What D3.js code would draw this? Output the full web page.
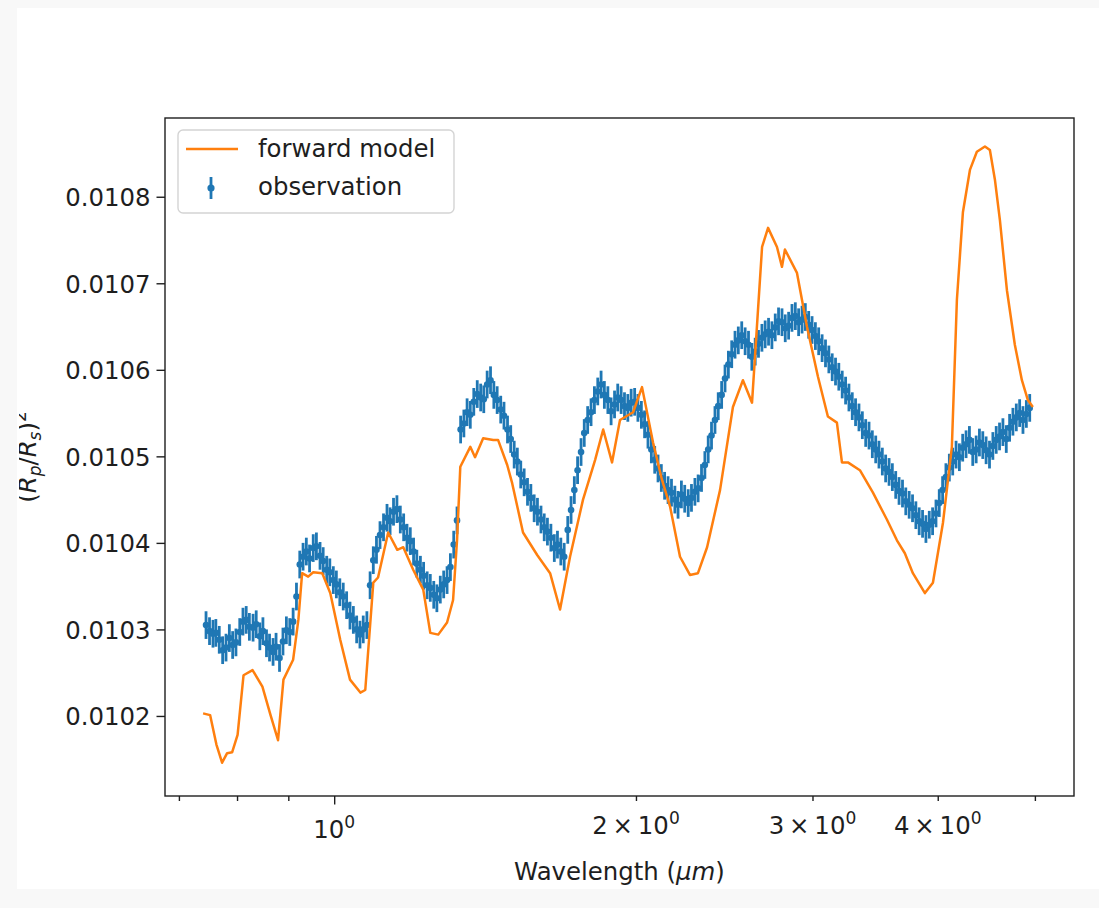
<!DOCTYPE html>
<html>
<head>
<meta charset="utf-8">
<script src="https://cdn.jsdelivr.net/npm/d3@7"></script>
<style>
  body { margin: 0; background: #f8f8f8; }
  svg { display: block; font-family: "DejaVu Sans", sans-serif; }
</style>
</head>
<body>
<svg id="chart" width="1099" height="908"></svg>
<script>
var obsWavelength = [
  0.745, 0.751, 0.757, 0.762, 0.768, 0.774, 0.780, 0.786, 0.792, 0.798,
  0.805, 0.811, 0.817, 0.823, 0.830, 0.836, 0.843, 0.849, 0.856, 0.862,
  0.869, 0.875, 0.882, 0.889, 0.896, 0.903, 0.910, 0.917, 0.924, 0.931,
  0.938, 0.945, 0.953, 0.960, 0.968, 0.975, 0.983, 0.990, 0.998, 1.005,
  1.013, 1.021, 1.029, 1.037, 1.045, 1.053, 1.061, 1.069, 1.078, 1.086,
  1.094, 1.102, 1.111, 1.120, 1.129, 1.137, 1.146, 1.155, 1.164, 1.173,
  1.182, 1.191, 1.200, 1.209, 1.219, 1.228, 1.238, 1.247, 1.257, 1.266,
  1.276, 1.286, 1.296, 1.306, 1.316, 1.326, 1.337, 1.347, 1.357, 1.367,
  1.378, 1.389, 1.400, 1.410, 1.421, 1.432, 1.443, 1.454, 1.466, 1.477,
  1.489, 1.500, 1.512, 1.523, 1.535, 1.547, 1.559, 1.571, 1.583, 1.595,
  1.608, 1.620, 1.632, 1.645, 1.658, 1.670, 1.683, 1.696, 1.710, 1.723,
  1.736, 1.749, 1.763, 1.776, 1.790, 1.804, 1.818, 1.832, 1.846, 1.860,
  1.875, 1.889, 1.904, 1.918, 1.933, 1.948, 1.963, 1.978, 1.994, 2.009,
  2.025, 2.040, 2.056, 2.072, 2.088, 2.104, 2.120, 2.136, 2.153, 2.170,
  2.187, 2.203, 2.220, 2.237, 2.255, 2.272, 2.290, 2.307, 2.325, 2.343,
  2.361, 2.379, 2.398, 2.416, 2.435, 2.454, 2.473, 2.492, 2.511, 2.530,
  2.550, 2.570, 2.590, 2.610, 2.630, 2.650, 2.671, 2.691, 2.712, 2.733,
  2.754, 2.775, 2.797, 2.818, 2.840, 2.862, 2.884, 2.906, 2.929, 2.951,
  2.974, 2.997, 3.020, 3.043, 3.067, 3.091, 3.115, 3.139, 3.163, 3.187,
  3.212, 3.237, 3.262, 3.287, 3.312, 3.338, 3.364, 3.390, 3.416, 3.442,
  3.469, 3.495, 3.522, 3.549, 3.577, 3.604, 3.632, 3.660, 3.689, 3.717,
  3.746, 3.775, 3.804, 3.833, 3.863, 3.893, 3.923, 3.953, 3.984, 4.014,
  4.045, 4.076, 4.108, 4.140, 4.172, 4.204, 4.236, 4.269, 4.302, 4.335,
  4.369, 4.402, 4.436, 4.470, 4.505, 4.540, 4.575, 4.610, 4.646, 4.682,
  4.718, 4.754, 4.791, 4.828, 4.865, 4.903, 4.941
];
var obsDepth = [
  0.010305, 0.010298, 0.010295, 0.010296, 0.010288, 0.010276, 0.010279, 0.010290, 0.010282, 0.010285,
  0.010297, 0.010309, 0.010311, 0.010303, 0.010302, 0.010306, 0.010292, 0.010298, 0.010284, 0.010279,
  0.010274, 0.010280, 0.010267, 0.010286, 0.010299, 0.010297, 0.010309, 0.010338, 0.010375, 0.010384,
  0.010390, 0.010382, 0.010394, 0.010396, 0.010385, 0.010379, 0.010369, 0.010366, 0.010357, 0.010352,
  0.010343, 0.010338, 0.010328, 0.010316, 0.010311, 0.010300, 0.010294, 0.010300, 0.010305, 0.010351,
  0.010380, 0.010392, 0.010409, 0.010418, 0.010429, 0.010425, 0.010436, 0.010439, 0.010427, 0.010418,
  0.010406, 0.010402, 0.010390, 0.010376, 0.010369, 0.010362, 0.010351, 0.010348, 0.010340, 0.010336,
  0.010346, 0.010352, 0.010357, 0.010372, 0.010398, 0.010426, 0.010531, 0.010538, 0.010551, 0.010548,
  0.010563, 0.010572, 0.010568, 0.010566, 0.010583, 0.010588, 0.010571, 0.010565, 0.010554, 0.010547,
  0.010531, 0.010520, 0.010502, 0.010494, 0.010479, 0.010470, 0.010459, 0.010452, 0.010440, 0.010436,
  0.010427, 0.010418, 0.010413, 0.010406, 0.010394, 0.010398, 0.010390, 0.010384, 0.010415, 0.010438,
  0.010461, 0.010484, 0.010505, 0.010527, 0.010542, 0.010551, 0.010565, 0.010575, 0.010583, 0.010571,
  0.010565, 0.010552, 0.010560, 0.010568, 0.010565, 0.010558, 0.010556, 0.010562, 0.010563, 0.010556,
  0.010548, 0.010537, 0.010525, 0.010508, 0.010496, 0.010486, 0.010475, 0.010466, 0.010461, 0.010458,
  0.010450, 0.010444, 0.010456, 0.010451, 0.010446, 0.010452, 0.010459, 0.010463, 0.010475, 0.010490,
  0.010508, 0.010524, 0.010542, 0.010558, 0.010571, 0.010590, 0.010606, 0.010618, 0.010629, 0.010634,
  0.010640, 0.010633, 0.010629, 0.010615, 0.010621, 0.010630, 0.010637, 0.010641, 0.010644, 0.010640,
  0.010649, 0.010656, 0.010655, 0.010648, 0.010651, 0.010660, 0.010662, 0.010655, 0.010658, 0.010661,
  0.010652, 0.010646, 0.010639, 0.010633, 0.010625, 0.010619, 0.010612, 0.010603, 0.010598, 0.010592,
  0.010583, 0.010576, 0.010568, 0.010558, 0.010551, 0.010545, 0.010536, 0.010527, 0.010524, 0.010514,
  0.010508, 0.010502, 0.010494, 0.010486, 0.010482, 0.010476, 0.010467, 0.010460, 0.010457, 0.010448,
  0.010444, 0.010440, 0.010432, 0.010425, 0.010422, 0.010416, 0.010421, 0.010425, 0.010434, 0.010446,
  0.010461, 0.010476, 0.010487, 0.010494, 0.010502, 0.010499, 0.010510, 0.010514, 0.010519, 0.010505,
  0.010508, 0.010516, 0.010513, 0.010507, 0.010502, 0.010512, 0.010519, 0.010523, 0.010528, 0.010520,
  0.010533, 0.010540, 0.010545, 0.010550, 0.010542, 0.010549, 0.010556
];
var obsError = 0.000016;

// forward model spectrum
var modelWavelength = [
  0.740, 0.752, 0.763, 0.773, 0.782, 0.791, 0.801, 0.812, 0.829, 0.848,
  0.864, 0.879, 0.890, 0.910, 0.921, 0.929, 0.942, 0.953, 0.973, 0.991,
  1.014, 1.037, 1.062, 1.074, 1.094, 1.106, 1.132, 1.156, 1.172, 1.199,
  1.227, 1.247, 1.270, 1.296, 1.314, 1.326, 1.336, 1.367, 1.382, 1.408,
  1.441, 1.457, 1.488, 1.505, 1.543, 1.594, 1.642, 1.680, 1.719, 1.771,
  1.821, 1.855, 1.893, 1.928, 1.987, 2.028, 2.080, 2.123, 2.163, 2.213,
  2.264, 2.306, 2.355, 2.426, 2.499, 2.557, 2.611, 2.647, 2.672, 2.709,
  2.765, 2.797, 2.816, 2.895, 2.962, 3.038, 3.108, 3.173, 3.210, 3.254,
  3.345, 3.447, 3.559, 3.642, 3.709, 3.778, 3.884, 3.956, 4.048, 4.132,
  4.180, 4.238, 4.307, 4.376, 4.458, 4.509, 4.561, 4.614, 4.689, 4.775,
  4.853, 4.920, 4.977
];
var modelDepth = [
  0.010203, 0.010201, 0.010167, 0.010146, 0.010157, 0.010158, 0.010178, 0.010247, 0.010253, 0.010234,
  0.010201, 0.010172, 0.010242, 0.010265, 0.010311, 0.010365, 0.010361, 0.010366, 0.010365, 0.010342,
  0.010288, 0.010242, 0.010227, 0.010230, 0.010354, 0.010360, 0.010412, 0.010392, 0.010395, 0.010369,
  0.010346, 0.010296, 0.010294, 0.010308, 0.010334, 0.010403, 0.010488, 0.010511, 0.010499, 0.010521,
  0.010519, 0.010519, 0.010490, 0.010469, 0.010412, 0.010386, 0.010365, 0.010323, 0.010384, 0.010450,
  0.010496, 0.010531, 0.010493, 0.010542, 0.010551, 0.010580, 0.010516, 0.010473, 0.010442, 0.010384,
  0.010363, 0.010365, 0.010395, 0.010461, 0.010557, 0.010588, 0.010562, 0.010669, 0.010742, 0.010764,
  0.010742, 0.010719, 0.010739, 0.010712, 0.010650, 0.010592, 0.010546, 0.010539, 0.010493, 0.010493,
  0.010484, 0.010458, 0.010427, 0.010403, 0.010388, 0.010365, 0.010342, 0.010354, 0.010423, 0.010511,
  0.010681, 0.010782, 0.010831, 0.010852, 0.010858, 0.010854, 0.010820, 0.010773, 0.010692, 0.010629,
  0.010588, 0.010565, 0.010557
];

// ticks
var yTicks = [0.0102, 0.0103, 0.0104, 0.0105, 0.0106, 0.0107, 0.0108];
var xMajorTicks = [1];
var xMajorLabels = ["10"];
var xLabeledMinorTicks = [2, 3, 4];
var xLabeledMinorLabels = ["2\u2009\u00d7\u200910", "3\u2009\u00d7\u200910", "4\u2009\u00d7\u200910"];
var xMinorTicks = [0.7, 0.8, 0.9, 5];
var xTickExponent = "0";

var blue = "#1f77b4", orange = "#ff7f0e", ink = "#1e1e1e";
var fontSize = 24.4;
var plot = {left: 165, right: 1074, top: 118, bottom: 796};

var svg = d3.select("#chart");
svg.append("rect").attr("x", 17).attr("y", 8).attr("width", 1082).attr("height", 881).attr("fill", "#fff");

var x = d3.scaleLog().domain([0.678, 5.47]).range([plot.left, plot.right]);
var y = d3.scaleLinear().domain([0.0101075, 0.010891]).range([plot.bottom, plot.top]);

/**
 * Draw text with a raised exponent, like matplotlib mathtext.
 */
function supText(g, base, sup, size) {
    var t = g.append("text").attr("fill", ink).style("font-size", size + "px");
    t.append("tspan").text(base);
    t.append("tspan").attr("dy", -0.42 * size).style("font-size", (size * 0.7) + "px").text(sup);
    return t;
}

// y axis
var yAxis = svg.append("g")
    .attr("transform", "translate(" + plot.left + ",0)")
    .call(d3.axisLeft(y).tickValues(yTicks).tickFormat(d3.format(".4f")).tickSize(8.5).tickPadding(6));
yAxis.select(".domain").remove();
yAxis.selectAll(".tick line").attr("stroke", ink).attr("stroke-width", 1.4);
yAxis.selectAll(".tick text").attr("fill", ink).style("font-size", fontSize + "px")
    .style("font-family", "DejaVu Sans").attr("dy", "0.36em");

// x axis: major, labeled minor, unlabeled minor ticks
function xTickMarks(values, len) {
    var g = svg.append("g")
        .attr("transform", "translate(0," + plot.bottom + ")")
        .call(d3.axisBottom(x).tickValues(values).tickSize(len).tickFormat(""));
    g.select(".domain").remove();
    g.selectAll(".tick line").attr("stroke", ink).attr("stroke-width", 1.4);
    return g;
}
xTickMarks(xMajorTicks, 8.5);
xTickMarks(xLabeledMinorTicks, 5);
xTickMarks(xMinorTicks, 5);

xMajorTicks.forEach(function (v, i) {
    supText(svg, xMajorLabels[i], xTickExponent, fontSize)
        .attr("x", x(v)).attr("y", 838).attr("text-anchor", "middle");
});
xLabeledMinorTicks.forEach(function (v, i) {
    supText(svg, xLabeledMinorLabels[i], xTickExponent, fontSize)
        .attr("x", x(v)).attr("y", 834).attr("text-anchor", "middle");
});

// axis labels
var xl = svg.append("text").attr("x", (plot.left + plot.right) / 2).attr("y", 880)
    .attr("text-anchor", "middle").attr("fill", ink).style("font-size", fontSize + "px");
xl.append("tspan").text("Wavelength (");
xl.append("tspan").style("font-style", "italic").text("\u03bcm");
xl.append("tspan").text(")");

// y label is cut at the left edge in the original
svg.append("clipPath").attr("id", "ylabel-clip")
    .append("rect").attr("x", 19).attr("y", 0).attr("width", 60).attr("height", 908);
var yl = svg.append("g").attr("clip-path", "url(#ylabel-clip)")
    .append("text")
    .attr("transform", "translate(36," + ((plot.top + plot.bottom) / 2) + ") rotate(-90)")
    .attr("text-anchor", "middle").attr("fill", ink).style("font-size", fontSize + "px");
yl.append("tspan").text("(");
yl.append("tspan").style("font-style", "italic").text("R");
yl.append("tspan").attr("dy", 5).style("font-style", "italic").style("font-size", "17px").text("p");
yl.append("tspan").attr("dy", -5).text("/");
yl.append("tspan").style("font-style", "italic").text("R");
yl.append("tspan").attr("dy", 5).style("font-style", "italic").style("font-size", "17px").text("s");
yl.append("tspan").attr("dy", -5).text(")");
yl.append("tspan").attr("dy", -10).style("font-size", "17px").text("2");

// observation with error bars
var obs = obsWavelength.map(function (w, i) { return {w: w, d: obsDepth[i]}; });
var bars = svg.append("g");
bars.selectAll("line").data(obs).enter().append("line")
    .attr("x1", function (p) { return x(p.w); })
    .attr("x2", function (p) { return x(p.w); })
    .attr("y1", function (p) { return y(p.d - obsError); })
    .attr("y2", function (p) { return y(p.d + obsError); })
    .attr("stroke", blue).attr("stroke-width", 2.8);
bars.selectAll("circle").data(obs).enter().append("circle")
    .attr("cx", function (p) { return x(p.w); })
    .attr("cy", function (p) { return y(p.d); })
    .attr("r", 3.3).attr("fill", blue);

// forward model line
var model = modelWavelength.map(function (w, i) { return {w: w, d: modelDepth[i]}; });
svg.append("path").datum(model)
    .attr("d", d3.line().x(function (p) { return x(p.w); }).y(function (p) { return y(p.d); }))
    .attr("fill", "none").attr("stroke", orange).attr("stroke-width", 2.5).attr("stroke-linejoin", "round");

// frame
svg.append("rect").attr("x", plot.left).attr("y", plot.top)
    .attr("width", plot.right - plot.left).attr("height", plot.bottom - plot.top)
    .attr("fill", "none").attr("stroke", ink).attr("stroke-width", 1.4);

// legend
var legend = svg.append("g");
legend.append("rect").attr("x", 178).attr("y", 130).attr("width", 276).attr("height", 83).attr("rx", 5)
    .attr("fill", "#fff").attr("fill-opacity", 0.8).attr("stroke", "#d4d4d4").attr("stroke-width", 1.4);
legend.append("line").attr("x1", 186).attr("x2", 238).attr("y1", 149).attr("y2", 149)
    .attr("stroke", orange).attr("stroke-width", 2.6);
legend.append("text").attr("x", 258).attr("y", 157).attr("fill", ink).style("font-size", fontSize + "px").text("forward model");
legend.append("line").attr("x1", 211).attr("x2", 211).attr("y1", 177).attr("y2", 199)
    .attr("stroke", blue).attr("stroke-width", 2.8);
legend.append("circle").attr("cx", 211).attr("cy", 188).attr("r", 3.6).attr("fill", blue);
legend.append("text").attr("x", 258).attr("y", 195).attr("fill", ink).style("font-size", fontSize + "px").text("observation");
</script>
</body>
</html>
